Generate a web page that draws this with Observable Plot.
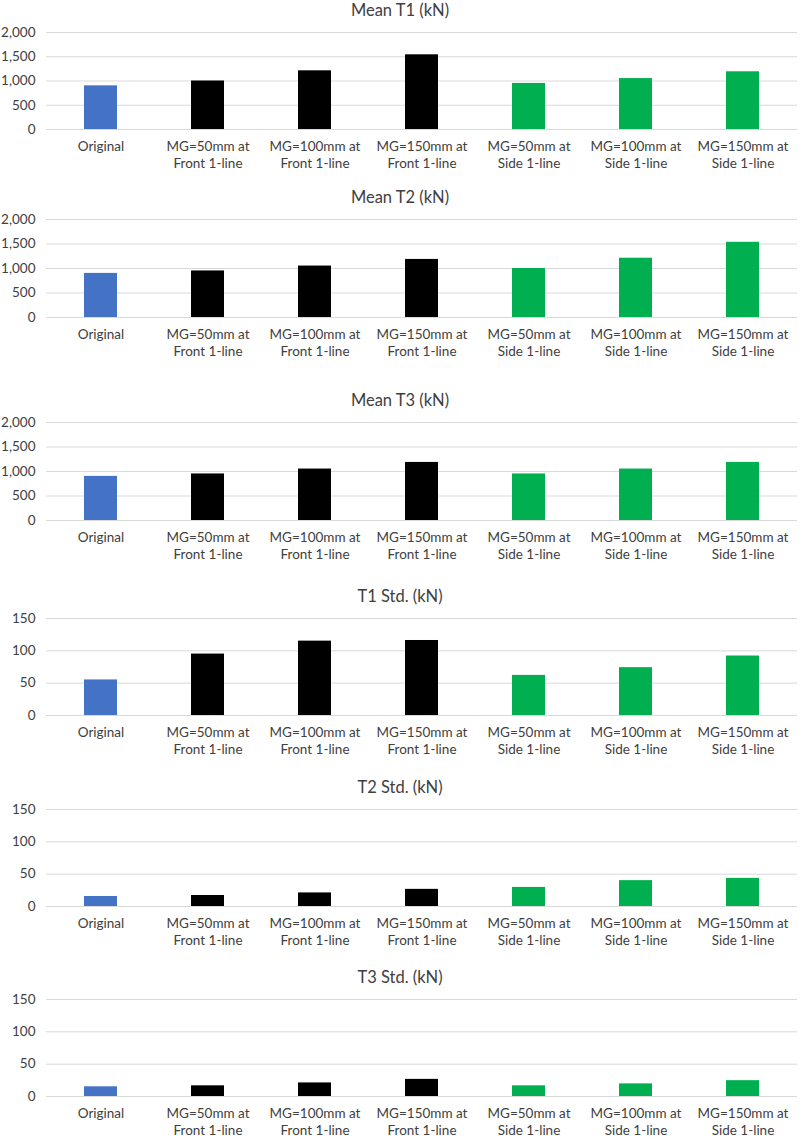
<!DOCTYPE html>
<html>
<head>
<meta charset="utf-8">
<script src="https://cdn.jsdelivr.net/npm/d3@7"></script>
<script src="https://cdn.jsdelivr.net/npm/@observablehq/plot@0.6"></script>
<style>
  html, body { margin: 0; padding: 0; background: #fff; }
  #chart { position: relative; width: 800px; height: 1137px; font-family: Lato, "Open Sans", sans-serif; }
  .panel-title { position: absolute; left: 0; width: 800px; text-align: center; font-size: 16.5px; line-height: 20px; color: #404040; }
  .panel svg { display: block; }
  .panel { position: absolute; left: 0; }
</style>
</head>
<body>
<div id="chart"></div>
<script>
// Mooring configurations (x categories)
const categories = [
  "Original",
  "MG=50mm at\nFront 1-line",
  "MG=100mm at\nFront 1-line",
  "MG=150mm at\nFront 1-line",
  "MG=50mm at\nSide 1-line",
  "MG=100mm at\nSide 1-line",
  "MG=150mm at\nSide 1-line"
];
const groups = ["original", "front", "front", "front", "side", "side", "side"];

// Mean line tensions (kN)
const meanT1 = [900, 1000, 1210, 1540, 950, 1050, 1190];
const meanT2 = [900, 950, 1050, 1185, 1000, 1210, 1535];
const meanT3 = [900, 950, 1050, 1185, 950, 1050, 1185];

// Standard deviations of line tension (kN)
const stdT1 = [55, 95, 115, 116, 62, 74, 92];
const stdT2 = [15.5, 17, 21, 26.5, 29.5, 40, 43.5];
const stdT3 = [15, 16.5, 21, 26.5, 16.5, 19.5, 24.5];

const meanTicks = [0, 500, 1000, 1500, 2000];
const stdTicks = [0, 50, 100, 150];

const panels = [
  {title: "Mean T1 (kN)", values: meanT1, ticks: meanTicks, top: 32, zero: 129},
  {title: "Mean T2 (kN)", values: meanT2, ticks: meanTicks, top: 219, zero: 317},
  {title: "Mean T3 (kN)", values: meanT3, ticks: meanTicks, top: 422, zero: 520},
  {title: "T1 Std. (kN)", values: stdT1, ticks: stdTicks, top: 618, zero: 715},
  {title: "T2 Std. (kN)", values: stdT2, ticks: stdTicks, top: 809, zero: 906},
  {title: "T3 Std. (kN)", values: stdT3, ticks: stdTicks, top: 999, zero: 1096}
];

const colorDomain = ["original", "front", "side"];
const colorRange = ["#4472C4", "#000000", "#00B050"];

const chart = document.getElementById("chart");
const marginTop = 12, marginBottom = 48;

for (const p of panels) {
  const rows = categories.map((c, i) => ({category: c, group: groups[i], value: p.values[i]}));
  const plotH = p.zero - p.top;
  const svg = Plot.plot({
    width: 800,
    height: marginTop + plotH + marginBottom,
    marginLeft: 46,
    marginRight: 3,
    marginTop,
    marginBottom,
    style: {fontFamily: "Lato, 'Open Sans', sans-serif", fontSize: "13px", color: "#404040", background: "transparent"},
    x: {domain: categories, paddingInner: 0.69, paddingOuter: 0.345, align: 0.5, label: null},
    y: {domain: [p.ticks[0], p.ticks[p.ticks.length - 1]], label: null},
    color: {domain: colorDomain, range: colorRange},
    marks: [
      Plot.gridY(p.ticks, {stroke: "#d9d9d9", strokeOpacity: 1, strokeWidth: 1}),
      Plot.barY(rows, {x: "category", y: "value", fill: "group"}),
      Plot.axisY(p.ticks, {tickSize: 0, tickPadding: 11, tickFormat: d3.format(","), fontSize: 13.5, fill: "#404040"}),
      Plot.axisX({tickSize: 0, tickPadding: 10, fontSize: 13.5, lineHeight: 1.25, fill: "#404040"})
    ]
  });
  const wrap = document.createElement("div");
  wrap.className = "panel";
  wrap.style.top = (p.top - marginTop) + "px";
  wrap.appendChild(svg);
  chart.appendChild(wrap);

  const t = document.createElement("div");
  t.className = "panel-title";
  t.style.top = (p.top - 32) + "px";
  t.textContent = p.title;
  chart.appendChild(t);
}
</script>
</body>
</html>
